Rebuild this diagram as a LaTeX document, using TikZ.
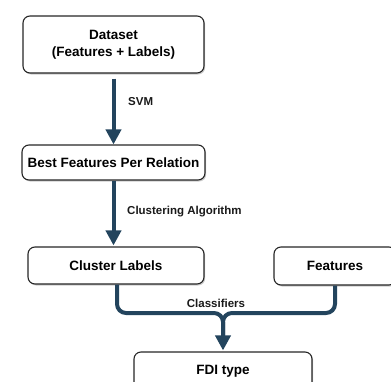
\documentclass[tikz,border=0pt]{standalone}
\usepackage{fontspec}
\setmainfont{Liberation Sans}
\usetikzlibrary{arrows.meta,shadows}
\definecolor{flow}{HTML}{23445D}
\tikzset{
  box/.style={draw=black!85, line width=1.1pt, rounded corners=7pt, fill=white,
    drop shadow={shadow xshift=1.2pt, shadow yshift=-1.5pt, fill=black!40, opacity=0.5},
    font=\fontsize{13.5}{17}\selectfont\bfseries, align=center, inner sep=0pt},
  flowline/.style={draw=flow, line width=4pt, -{Triangle[width=15pt,length=15pt]}},
  merge/.style={draw=flow, line width=4pt, rounded corners=9pt},
  lbl/.style={font=\fontsize{11.5}{14}\selectfont\bfseries, text=black!90, inner sep=0pt}
}
\begin{document}
\begin{tikzpicture}[x=1pt,y=-1pt]
\useasboundingbox (0,0) rectangle (391,381);
\node[box, minimum width=181pt, minimum height=57pt] (ds) at (113.5,44.5) {Dataset\\(Features + Labels)};
\node[box, minimum width=183pt, minimum height=35pt] (bf) at (113.5,162.5) {Best Features Per Relation};
\node[box, minimum width=176pt, minimum height=37pt] (cl) at (116,265.5) {Cluster Labels};
\node[box, minimum width=122pt, minimum height=38pt] (fe) at (335,266) {Features};
\node[box, minimum width=178pt, minimum height=38pt] (fdi) at (223,371) {FDI type};
\draw[flowline] ([yshift=-5pt]ds.south) -- (bf.north);
\draw[flowline] (bf.south) -- ([yshift=1pt]cl.north -| bf.south);
\node[lbl, anchor=west] (svm) at (128,102) {SVM};
\node[lbl, anchor=west] (ca) at (127,212) {Clustering Algorithm};
\node[lbl] (cls) at (216,303) {Classifiers};
\coordinate (j) at (223,313);
\draw[merge] ([xshift=1pt]cl.south) |- (j) -- (223,336);
\draw[merge] (fe.south) |- (j) -- (223,336);
\draw[flowline] (223,325) -- ([yshift=1pt]fdi.north);
\end{tikzpicture}
\end{document}
